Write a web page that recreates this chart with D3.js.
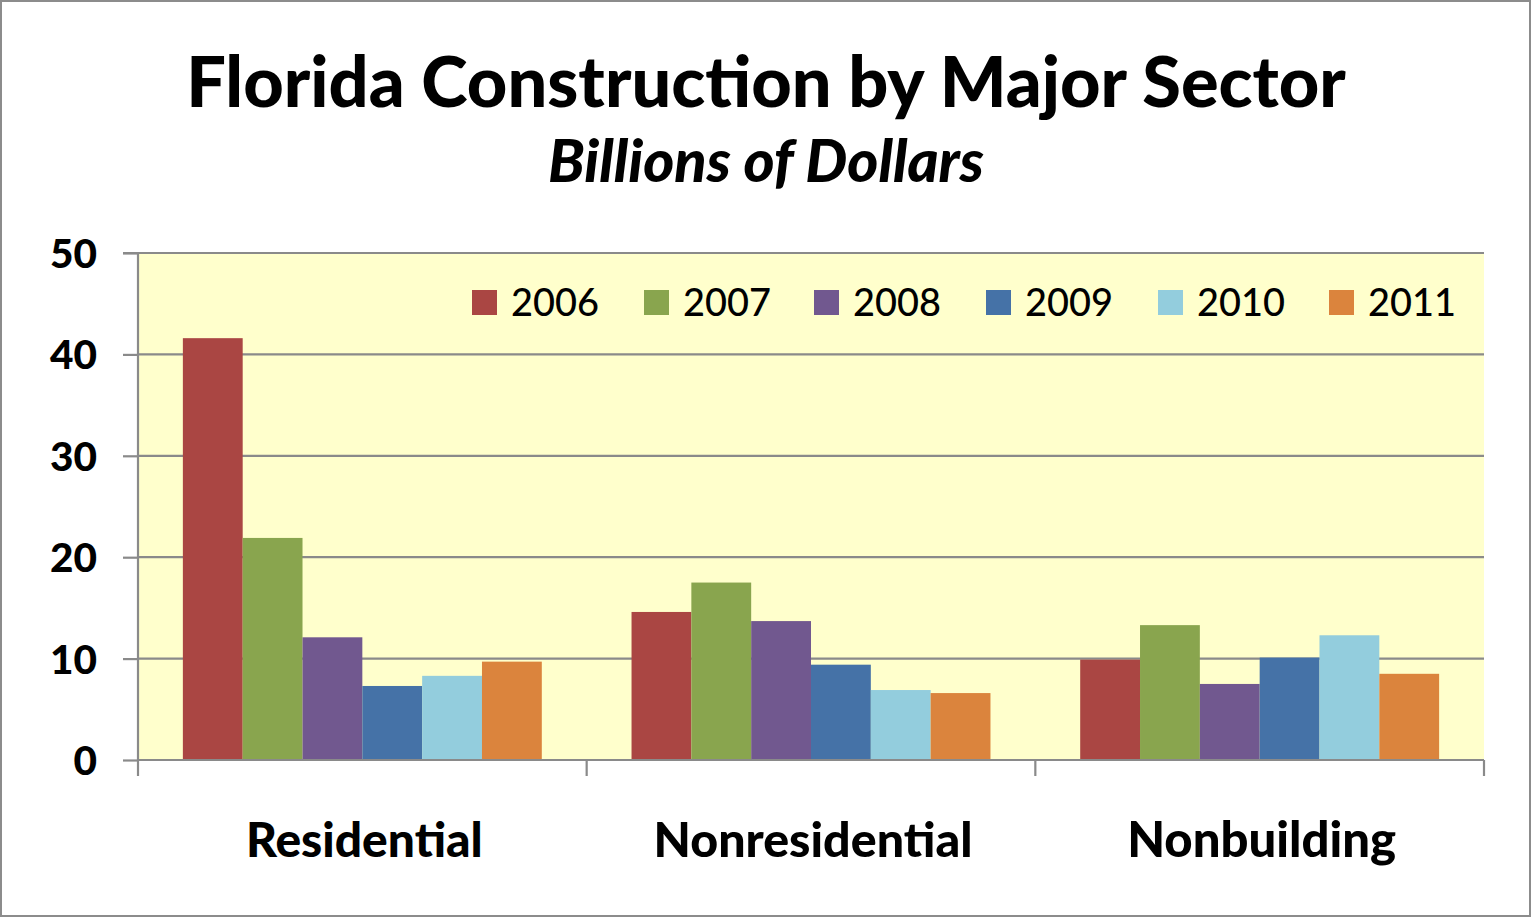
<!DOCTYPE html>
<html><head><meta charset="utf-8">
<script src="https://cdn.jsdelivr.net/npm/d3@7"></script>
<style>html,body{margin:0;padding:0;background:#fff;}svg{display:block;}</style>
</head><body>
<svg id="chart" width="1532" height="918"></svg>
<script>
const categories = ["Residential", "Nonresidential", "Nonbuilding"];
const years = ["2006", "2007", "2008", "2009", "2010", "2011"];
const v2006 = [41.6, 14.6, 9.9];
const v2007 = [21.9, 17.5, 13.3];
const v2008 = [12.1, 13.7, 7.5];
const v2009 = [7.3, 9.4, 10.1];
const v2010 = [8.3, 6.9, 12.3];
const v2011 = [9.7, 6.6, 8.5];
const yTicks = [0, 10, 20, 30, 40, 50];
const colors = ["#AA4643", "#89A54E", "#71588F", "#4572A7", "#93CDDD", "#DB843D"];
const seriesValues = [v2006, v2007, v2008, v2009, v2010, v2011];

const svg = d3.select("#chart");
const FONT = "Lato, 'Open Sans', sans-serif";
const L = 138, R = 1484, T = 253, B = 760;

svg.append("rect").attr("x", 1).attr("y", 1).attr("width", 1529).attr("height", 915)
  .attr("fill", "#fff").attr("stroke", "#8c8c8c").attr("stroke-width", 2);

function fitText(sel, w) {
  const fs = parseFloat(sel.attr("font-size"));
  const len = sel.node().getComputedTextLength();
  sel.attr("font-size", fs * w / len);
}

const x0 = d3.scaleBand().domain(categories).range([L, R]).paddingInner(0).paddingOuter(0);
const barW = x0.bandwidth() / (6 + 1.5);
const x1 = d3.scaleBand().domain(years).range([barW * 0.75, x0.bandwidth() - barW * 0.75]).padding(0);
const y = d3.scaleLinear().domain([0, 50]).range([B, T]);

// plot background
svg.append("rect").attr("x", L).attr("y", T).attr("width", R - L).attr("height", B - T).attr("fill", "#FFFFCC");

// gridlines
svg.append("g").selectAll("line").data(yTicks.filter(d => d > 0)).join("line")
  .attr("x1", L).attr("x2", R).attr("y1", d => y(d)).attr("y2", d => y(d))
  .attr("stroke", "#8a8a8a").attr("stroke-width", 2.2);

// bars
const data = [];
categories.forEach((c, i) => years.forEach((yr, j) => data.push({c, yr, v: seriesValues[j][i], col: colors[j]})));
svg.append("g").selectAll("rect").data(data).join("rect")
  .attr("x", d => x0(d.c) + x1(d.yr)).attr("width", x1.bandwidth())
  .attr("y", d => y(d.v)).attr("height", d => y(0) - y(d.v)).attr("fill", d => d.col);

// y axis
const yAxis = svg.append("g").attr("transform", `translate(${L},0)`)
  .call(d3.axisLeft(y).tickValues(yTicks).tickSize(15).tickPadding(26).tickFormat(d3.format("d")));
yAxis.select(".domain").attr("stroke", "#8a8a8a").attr("stroke-width", 2.2).attr("d", `M-15,${T}H0V${B}`);
yAxis.selectAll(".tick line").attr("stroke", "#8a8a8a").attr("stroke-width", 2.2);
yAxis.selectAll(".tick text").attr("font-family", FONT).attr("font-weight", 900).attr("font-size", 36).attr("fill", "#000").attr("dy", "0.36em");
const t50 = yAxis.selectAll(".tick text").filter(d => d === 50);
const ys = 47 / t50.node().getComputedTextLength();
yAxis.selectAll(".tick text").attr("font-size", 36 * ys);

// x axis
const xAxis = svg.append("g").attr("transform", `translate(0,${B})`);
xAxis.append("line").attr("x1", L).attr("x2", R).attr("y1", 0).attr("y2", 0).attr("stroke", "#8a8a8a").attr("stroke-width", 2.2);
const bounds = categories.map(c => x0(c)).concat([R]);
xAxis.selectAll("line.tk").data(bounds).join("line").attr("class", "tk")
  .attr("x1", d => d).attr("x2", d => d).attr("y1", 0).attr("y2", 16).attr("stroke", "#8a8a8a").attr("stroke-width", 2.2);
const catW = [237, 319, 269];
xAxis.selectAll("text").data(categories).join("text")
  .attr("x", d => x0(d) + x0.bandwidth() / 2 + 2).attr("y", 97)
  .attr("text-anchor", "middle").attr("font-family", FONT).attr("font-weight", 900).attr("font-size", 40)
  .text(d => d).each(function(d, i) { fitText(d3.select(this), catW[i]); });

// legend
const legX = [472, 644, 814, 986, 1158, 1329];
const leg = svg.append("g").selectAll("g").data(years).join("g")
  .attr("transform", (d, i) => `translate(${legX[i]},290)`);
leg.append("rect").attr("width", 25).attr("height", 25).attr("fill", (d, i) => colors[i]);
leg.append("text").attr("x", 39).attr("y", 12.5).attr("dy", "0.36em")
  .attr("font-family", FONT).attr("font-weight", 500).attr("font-size", 38).attr("fill", "#000").text(d => d)
  .each(function() { fitText(d3.select(this), 88); });

// titles
const t = svg.append("text").attr("x", 766).attr("y", 107).attr("text-anchor", "middle")
  .attr("font-family", FONT).attr("font-weight", 900).attr("font-size", 60).text("Florida Construction by Major Sector");
fitText(t, 1160);
const st = svg.append("text").attr("x", 766).attr("y", 182).attr("text-anchor", "middle")
  .attr("font-family", FONT).attr("font-weight", 900).attr("font-style", "italic").attr("font-size", 44).text("Billions of Dollars");
fitText(st, 436);
</script>
</body></html>
